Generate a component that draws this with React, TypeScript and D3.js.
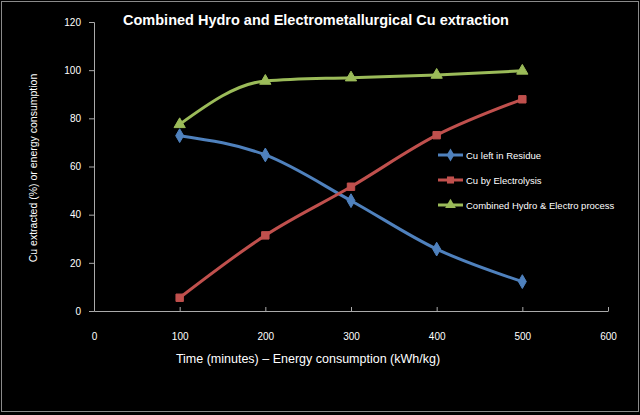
import React, { useEffect, useRef } from 'react';
import * as d3 from 'd3';

const times = [100, 200, 300, 400, 500];
const residue = [72.8, 64.8, 45.8, 25.7, 12.2];
const leached = [5.5, 31.4, 51.6, 73, 87.9];
const combined = [77.5, 95.5, 96.9, 98, 99.7];
const xTicks = [0, 100, 200, 300, 400, 500, 600];
const yTicks = [0, 20, 40, 60, 80, 100, 120];
const seriesNames = ['Cu left in Residue', 'Cu by Electrolysis', 'Combined Hydro & Electro process'];

const App = () => {
  const svgRef = useRef(null);

  useEffect(() => {
    const width = 640;
    const height = 415;
    const margin = { top: 22, right: 32, bottom: 104, left: 94 };

    d3.select(svgRef.current).selectAll('*').remove();

    const svg = d3.select(svgRef.current)
      .attr('width', width)
      .attr('height', height)
      .style('font-family', 'Liberation Sans, Arial, sans-serif');

    // Black background with thin grey frame
    svg.append('rect')
      .attr('x', 0).attr('y', 0)
      .attr('width', width).attr('height', height)
      .attr('fill', '#000');
    svg.append('rect')
      .attr('x', 1.5).attr('y', 1.5)
      .attr('width', width - 3).attr('height', height - 5)
      .attr('fill', 'none')
      .attr('stroke', '#8a8a8a')
      .attr('stroke-width', 1);

    const xScale = d3.scaleLinear()
      .domain([0, 600])
      .range([margin.left, width - margin.right]);

    const yScale = d3.scaleLinear()
      .domain([0, 120])
      .range([height - margin.bottom, margin.top]);

    // Title
    svg.append('text')
      .attr('x', 316)
      .attr('y', 25)
      .attr('text-anchor', 'middle')
      .attr('fill', '#fff')
      .style('font-size', '14.5px')
      .style('font-weight', 'bold')
      .text('Combined Hydro and Electrometallurgical Cu extraction');

    // X axis
    const xAxis = svg.append('g')
      .attr('transform', `translate(0,${height - margin.bottom})`)
      .call(d3.axisBottom(xScale).tickValues(xTicks).tickSizeInner(-4).tickSizeOuter(0).tickPadding(22));
    xAxis.select('.domain').attr('stroke', '#aaa');
    xAxis.selectAll('.tick line').attr('stroke', '#aaa');
    xAxis.selectAll('.tick text').attr('fill', '#fff').style('font-size', '10px');

    // Y axis
    const yAxis = svg.append('g')
      .attr('transform', `translate(${margin.left},0)`)
      .call(d3.axisLeft(yScale).tickValues(yTicks).tickSize(5).tickPadding(8));
    yAxis.select('.domain').attr('stroke', '#aaa');
    yAxis.selectAll('.tick line').attr('stroke', '#aaa');
    yAxis.selectAll('.tick text').attr('fill', '#fff').style('font-size', '10px');

    // Axis titles
    svg.append('text')
      .attr('x', 308)
      .attr('y', 363)
      .attr('text-anchor', 'middle')
      .attr('fill', '#fff')
      .style('font-size', '12.5px')
      .text('Time (minutes) – Energy consumption (kWh/kg)');

    svg.append('text')
      .attr('transform', `translate(37,168) rotate(-90)`)
      .attr('text-anchor', 'middle')
      .attr('fill', '#fff')
      .style('font-size', '10.5px')
      .text('Cu extracted (%) or energy consumption');

    const series = [
      { name: seriesNames[0], values: residue, color: '#4f81bd', marker: d3.symbolDiamond },
      { name: seriesNames[1], values: leached, color: '#c0504d', marker: d3.symbolSquare },
      { name: seriesNames[2], values: combined, color: '#9bbb59', marker: d3.symbolTriangle }
    ];

    const line = d3.line<number>()
      .x((_, i) => xScale(times[i]))
      .y(d => yScale(d))
      .curve(d3.curveMonotoneX);

    series.forEach(s => {
      svg.append('path')
        .datum(s.values)
        .attr('d', line)
        .attr('fill', 'none')
        .attr('stroke', s.color)
        .attr('stroke-width', 3);

      s.values.forEach((v, i) => {
        svg.append('path')
          .attr('d', d3.symbol().type(s.marker).size(55)())
          .attr('transform', `translate(${xScale(times[i])},${yScale(v)})`)
          .attr('fill', s.color)
          .attr('stroke', s.color)
          .attr('stroke-width', 1);
      });
    });

    // Legend
    const legend = svg.append('g').attr('transform', 'translate(438,155)');
    series.forEach((s, i) => {
      const row = legend.append('g').attr('transform', `translate(0,${i * 25})`);
      row.append('line')
        .attr('x1', 0).attr('x2', 25)
        .attr('stroke', s.color)
        .attr('stroke-width', 3);
      row.append('path')
        .attr('d', d3.symbol().type(s.marker).size(50)())
        .attr('transform', 'translate(12.5,0)')
        .attr('fill', s.color);
      row.append('text')
        .attr('x', 28)
        .attr('y', 3.5)
        .attr('fill', '#fff')
        .style('font-size', '9.5px')
        .text(s.name);
    });
  }, []);

  return <svg ref={svgRef} style={{ display: 'block', position: 'absolute', left: 0, top: 0 }}></svg>;
};

export default App;
